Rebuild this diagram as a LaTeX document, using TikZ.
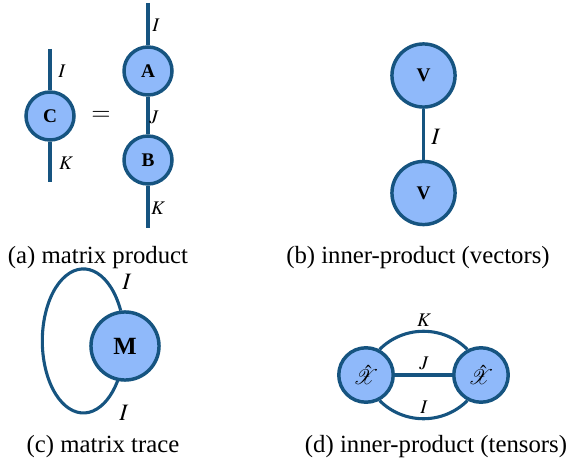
\documentclass[tikz,border=0pt]{standalone}
\usepackage{amsmath}
\usepackage{mathptmx}
\usepackage{fontspec}
\setmainfont{Liberation Serif}
\usetikzlibrary{backgrounds}
\definecolor{tnfill}{RGB}{143,185,250}
\definecolor{tnline}{RGB}{22,84,128}
\tikzset{
  tn/.style={circle,draw=tnline,fill=tnfill,line width=1.4pt,inner sep=0pt,font=\bfseries},
  leg/.style={draw=tnline,line width=1.25pt},
  lab/.style={inner sep=0pt,font=\fontsize{7.8}{9}\selectfont},
  biglab/.style={inner sep=0pt,font=\fontsize{9.5}{11}\selectfont},
  captext/.style={inner sep=0pt,font=\fontsize{10}{12}\selectfont}
}
\begin{document}
\begin{tikzpicture}[x=0.404pt,y=-0.404pt]
\useasboundingbox (0,0) rectangle (569,465);
% (a)
\node[tn,minimum size=19.4pt,font=\fontsize{7.8}{8}\bfseries] (C) at (50,116) {C};
\coordinate (ct) at (50,49);
\coordinate (cb) at (50,182);
\draw[leg] (ct) -- (C);
\draw[leg] (C) -- (cb);
\node[lab] (lCI) at (62,71) {$I$};
\node[lab] (lCK) at (66,163) {$K$};
\node[inner sep=0pt] (eq) at (101,116) {$=$};
\node[tn,minimum size=19.4pt,font=\fontsize{7.8}{8}\bfseries] (A) at (148,71) {A};
\node[tn,minimum size=19.4pt,font=\fontsize{7.8}{8}\bfseries] (B) at (148,160) {B};
\coordinate (at) at (148,3);
\coordinate (bb) at (148,228);
\draw[leg] (at) -- (A);
\draw[leg] (A) -- (B);
\draw[leg] (B) -- (bb);
\node[lab] (lAI) at (156,25) {$I$};
\node[lab] (lAJ) at (154,117) {$J$};
\node[lab] (lBK) at (158,208) {$K$};
\node[captext] (capa) at (98,258) {(a) matrix product};
% (b)
\node[tn,minimum size=25.5pt,font=\fontsize{7.8}{8}\bfseries] (V1) at (423.5,75.5) {V};
\node[tn,minimum size=25.5pt,font=\fontsize{7.8}{8}\bfseries] (V2) at (423.5,193) {V};
\draw[leg] (V1) -- (V2);
\node[biglab] (lVI) at (436,137) {$I$};
\node[captext] (capb) at (418,258) {(b) inner-product (vectors)};
% (c)
\node[tn,minimum size=27.5pt,font=\fontsize{10}{11}\bfseries] (M) at (125,346) {M};
\begin{scope}[on background layer]
\draw[leg] (M.97) arc[start angle=25,end angle=335,x radius=16.6pt,y radius=29.1pt];
\end{scope}
\node[biglab] (lMI1) at (127,282) {$I$};
\node[biglab] (lMI2) at (124,413) {$I$};
\node[captext] (capc) at (103,447) {(c) matrix trace};
% (d)
\node[tn,minimum size=22pt,font=\fontsize{8.5}{10}\selectfont] (X1) at (366,375) {$\skew{4}\hat{\mathcal{X}}$};
\node[tn,minimum size=22pt,font=\fontsize{8.5}{10}\selectfont] (X2) at (481,375) {$\skew{4}\hat{\mathcal{X}}$};
\draw[leg] (X1.62) to[out=45,in=135] (X2.118);
\draw[leg] (X1) -- (X2);
\draw[leg] (X1.-62) to[out=-45,in=-135] (X2.-118);
\node[lab] (lXK) at (424,320) {$K$};
\node[lab] (lXJ) at (424,363) {$J$};
\node[lab] (lXI) at (424,407) {$I$};
\node[captext] (capd) at (436,447) {(d) inner-product (tensors)};
\end{tikzpicture}
\end{document}
